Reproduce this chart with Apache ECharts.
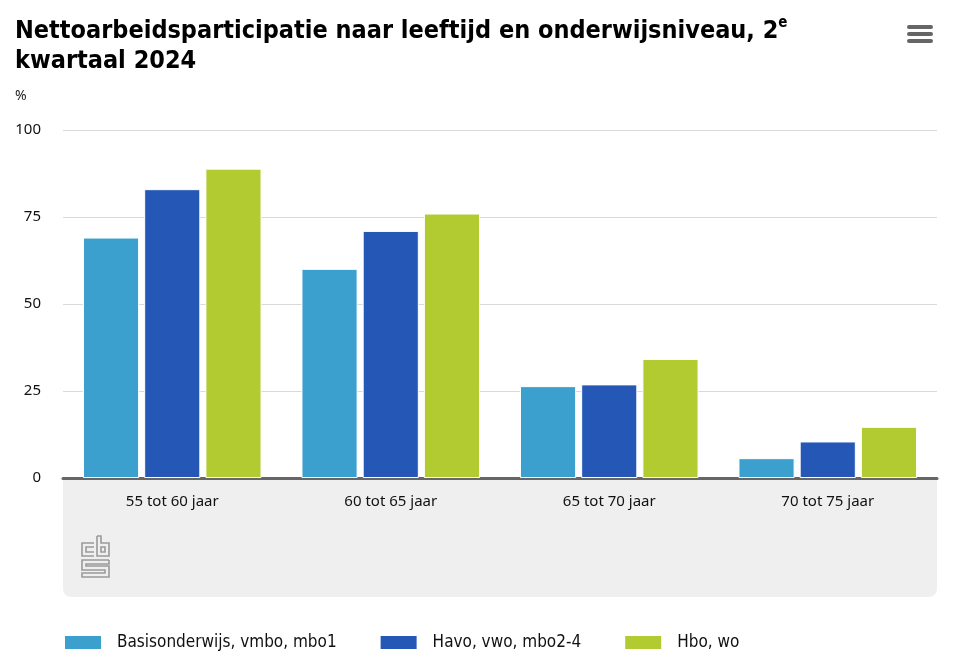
<!DOCTYPE html>
<html>
<head>
<meta charset="utf-8">
<script src="https://cdn.jsdelivr.net/npm/echarts@6/dist/echarts.min.js"></script>
<style>
html,body{margin:0;padding:0;background:#fff;}
#chart{width:962px;height:671px;}
</style>
</head>
<body>
<div id="chart"></div>
<script>
const categories = ['55 tot 60 jaar', '60 tot 65 jaar', '65 tot 70 jaar', '70 tot 75 jaar'];
const seriesNames = ['Basisonderwijs, vmbo, mbo1', 'Havo, vwo, mbo2-4', 'Hbo, wo'];
const basis = [69.1, 60.1, 26.4, 5.7];
const havo = [83.0, 71.0, 26.9, 10.5];
const hbo = [88.9, 76.0, 34.2, 14.7];
const colors = ['#3ba0cd', '#2457b6', '#b2cb31'];
const yTicks = [0, 25, 50, 75, 100];

const chart = echarts.init(document.getElementById('chart'), null, {renderer: 'canvas'});
const axisFont = '"Noto Sans", sans-serif';
const titleFont = '"Liberation Sans Narrow", "DejaVu Sans Condensed", sans-serif';

function mkSeries(name, data, color) {
  return {
    name: name, type: 'bar', data: data,
    barWidth: '25.7%', barGap: '9%',
    itemStyle: {color: color, borderColor: '#ffffff', borderWidth: 1},
    emphasis: {disabled: true}
  };
}

const logoStroke = {stroke: '#9a9a9a', lineWidth: 1.6, fill: null};
chart.setOption({
  animation: false,
  title: {
    text: 'Nettoarbeidsparticipatie naar leeftijd en onderwijsniveau, 2{sup|e}\nkwartaal 2024',
    left: 15, top: 16, padding: 0,
    textStyle: {
      fontFamily: titleFont, fontWeight: 'bold', fontSize: 25, color: '#000', lineHeight: 30,
      rich: {sup: {fontFamily: titleFont, fontWeight: 'bold', fontSize: 15, verticalAlign: 'top', padding: [0, 0, 13, 0], color: '#000'}}
    }
  },
  graphic: [
    {type: 'text', left: 15, top: 89, style: {text: '%', font: '14px ' + axisFont, fill: '#222'}},
    {type: 'rect', shape: {x: 63, y: 478, width: 874, height: 119, r: [0, 0, 8, 8]}, style: {fill: '#efefef'}, z: -10},
    {type: 'rect', shape: {x: 907, y: 25, width: 26, height: 4, r: 2}, style: {fill: '#666'}},
    {type: 'rect', shape: {x: 907, y: 32, width: 26, height: 4, r: 2}, style: {fill: '#666'}},
    {type: 'rect', shape: {x: 907, y: 39, width: 26, height: 4, r: 2}, style: {fill: '#666'}},
    {type: 'polyline', shape: {points: [[94, 543], [82, 543], [82, 556], [94, 556]]}, style: logoStroke},
    {type: 'polyline', shape: {points: [[94, 547], [86, 547], [86, 552], [94, 552]]}, style: logoStroke},
    {type: 'polyline', shape: {points: [[97, 536], [97, 556], [109, 556], [109, 543], [101, 543], [101, 536], [97, 536]]}, style: logoStroke},
    {type: 'rect', shape: {x: 101, y: 547, width: 4, height: 5}, style: logoStroke},
    {type: 'polyline', shape: {points: [[109, 560], [82, 560], [82, 570], [105, 570], [105, 573], [82, 573], [82, 577], [109, 577], [109, 566], [86, 566], [86, 564], [109, 564], [109, 560]]}, style: logoStroke}
  ],
  legend: {
    left: 63, top: 634, padding: 0,
    itemWidth: 38, itemHeight: 15, itemGap: 42,
    icon: 'rect',
    data: seriesNames,
    textStyle: {fontFamily: titleFont, fontSize: 17, color: '#111', padding: [0, 0, 0, 10]},
    selectedMode: false
  },
  grid: {left: 63, right: 25, top: 130, bottom: 193, containLabel: false},
  xAxis: {
    type: 'category', data: categories,
    axisLine: {show: true, lineStyle: {color: '#666', width: 3}},
    axisTick: {show: false},
    axisLabel: {fontFamily: axisFont, fontSize: 15, color: '#111', margin: 16}
  },
  yAxis: {
    type: 'value', min: 0, max: 100, interval: 25,
    axisLine: {show: false}, axisTick: {show: false},
    splitLine: {lineStyle: {color: '#d9d9d9', width: 1}},
    axisLabel: {fontFamily: axisFont, fontSize: 15, color: '#111', margin: 22,
      formatter: v => yTicks.includes(v) ? String(v) : ''}
  },
  series: [mkSeries(seriesNames[0], basis, colors[0]), mkSeries(seriesNames[1], havo, colors[1]), mkSeries(seriesNames[2], hbo, colors[2])]
});
</script>
</body>
</html>
